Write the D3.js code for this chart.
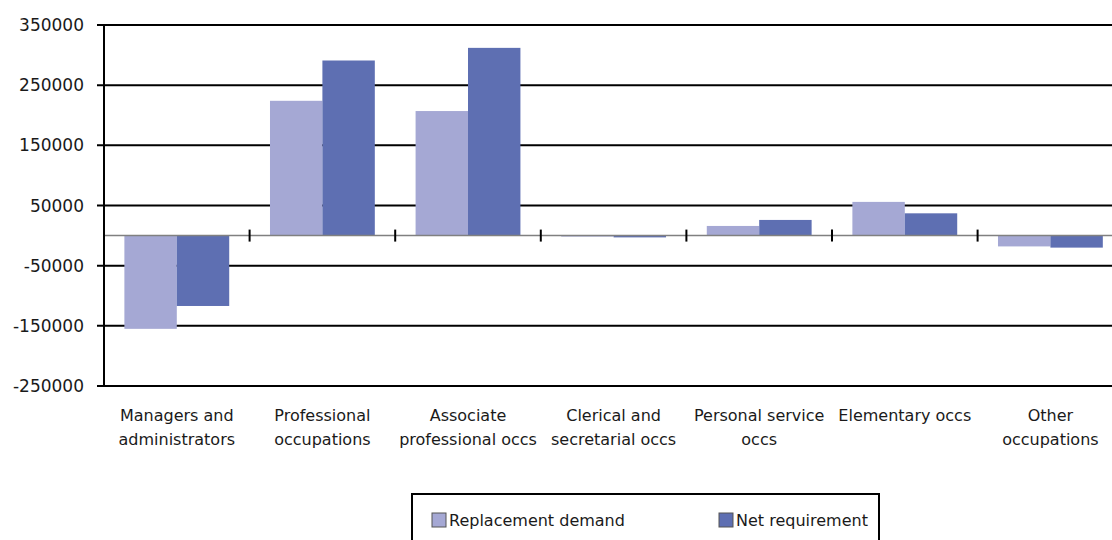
<!DOCTYPE html>
<html>
<head>
	<title>Replacement demand and net requirement</title>
	<script src="https://d3js.org/d3.v7.min.js"></script>
	<style type="text/css">
		body { margin: 0; background: #fff; }
		text { font-family: "DejaVu Sans", Arial, sans-serif; font-size: 16px; fill: #1a1a1a; }
	</style>
</head>
<body>
<div id="chart"></div>
	<script type="text/javascript">
	var categories = [
		["Managers and", "administrators"],
		["Professional", "occupations"],
		["Associate", "professional occs"],
		["Clerical and", "secretarial occs"],
		["Personal service", "occs"],
		["Elementary occs"],
		["Other", "occupations"]
	];
	var seriesNames = ["Replacement demand", "Net requirement"];
	var replacementDemand = [-155000, 224000, 207000, -500, 16000, 56000, -18000];
	var netRequirement = [-117000, 291000, 312000, -3000, 26000, 37000, -20000];
	var yTicks = [-250000, -150000, -50000, 50000, 150000, 250000, 350000];
	var colors = ["#a5a8d4", "#5e6fb2"];

	var width = 1112,
		height = 540,
		plotLeft = 104,
		plotTop = 25,
		plotBottom = 386,
		step = 145.6;

	var svg = d3.select('#chart')
		.append('svg')
		.attr('width', width)
		.attr('height', height);

	var idx = d3.range(categories.length);
	var plotRight = plotLeft + step * categories.length;

	var x0 = d3.scaleBand()
		.domain(idx)
		.range([plotLeft, plotRight])
		.paddingInner(0.28)
		.paddingOuter(0.14);

	var x1 = d3.scaleBand()
		.domain(seriesNames)
		.range([0, x0.bandwidth()]);

	var y = d3.scaleLinear()
		.domain([-250000, 350000])
		.range([plotBottom, plotTop]);

	// gridlines
	svg.append('g')
		.selectAll('line')
		.data(yTicks)
		.enter()
		.append('line')
		.attr('x1', plotLeft - 7)
		.attr('x2', plotRight)
		.attr('y1', function(d) { return y(d); })
		.attr('y2', function(d) { return y(d); })
		.attr('stroke', '#000')
		.attr('stroke-width', 2);

	// tick labels
	svg.append('g')
		.selectAll('text')
		.data(yTicks)
		.enter()
		.append('text')
		.attr('x', 84)
		.attr('y', function(d) { return y(d); })
		.attr('dy', '0.36em')
		.attr('text-anchor', 'end')
		.style('font-size', '17px')
		.text(function(d) { return d; });

	// bars
	var rows = idx.map(function(i) {
		return [replacementDemand[i], netRequirement[i]];
	});

	var groups = svg.append('g')
		.selectAll('g')
		.data(rows)
		.enter()
		.append('g')
		.attr('transform', function(d, i) { return 'translate(' + x0(i) + ',0)'; });

	groups.selectAll('rect')
		.data(function(d) { return d.map(function(v, j) { return {key: seriesNames[j], value: v, j: j}; }); })
		.enter()
		.append('rect')
		.attr('x', function(d) { return x1(d.key); })
		.attr('width', x1.bandwidth())
		.attr('y', function(d) { return y(Math.max(0, d.value)); })
		.attr('height', function(d) { return Math.max(1, Math.abs(y(d.value) - y(0))); })
		.attr('fill', function(d) { return colors[d.j]; });

	// zero line
	svg.append('line')
		.attr('x1', plotLeft)
		.attr('x2', plotRight)
		.attr('y1', y(0))
		.attr('y2', y(0))
		.attr('stroke', '#808080')
		.attr('stroke-width', 1.5);

	// category separators on the zero line
	svg.append('g')
		.selectAll('line')
		.data(idx.slice(1))
		.enter()
		.append('line')
		.attr('x1', function(i) { return plotLeft + step * i; })
		.attr('x2', function(i) { return plotLeft + step * i; })
		.attr('y1', y(0) - 6)
		.attr('y2', y(0) + 6)
		.attr('stroke', '#000')
		.attr('stroke-width', 2);

	// y axis line
	svg.append('line')
		.attr('x1', plotLeft)
		.attr('x2', plotLeft)
		.attr('y1', plotTop)
		.attr('y2', plotBottom)
		.attr('stroke', '#000')
		.attr('stroke-width', 2);

	// category labels
	var labels = svg.append('g')
		.selectAll('text')
		.data(categories)
		.enter()
		.append('text')
		.attr('text-anchor', 'middle')
		.attr('x', function(d, i) { return x0(i) + x0.bandwidth() / 2; });

	labels.selectAll('tspan')
		.data(function(d) { return d; })
		.enter()
		.append('tspan')
		.attr('x', function() { return d3.select(this.parentNode).attr('x'); })
		.attr('y', function(d, k) { return 421 + k * 24; })
		.text(function(d) { return d; });

	// legend
	var legend = svg.append('g');
	legend.append('rect')
		.attr('x', 412)
		.attr('y', 494)
		.attr('width', 467)
		.attr('height', 70)
		.attr('fill', 'none')
		.attr('stroke', '#000')
		.attr('stroke-width', 2);

	var legendX = [432, 719];
	var items = legend.selectAll('g.item')
		.data(seriesNames)
		.enter()
		.append('g')
		.attr('class', 'item')
		.attr('transform', function(d, i) { return 'translate(' + legendX[i] + ',513)'; });

	items.append('rect')
		.attr('width', 14)
		.attr('height', 14)
		.attr('fill', function(d, i) { return colors[i]; })
		.attr('stroke', '#555')
		.attr('stroke-width', 1);

	items.append('text')
		.attr('x', 17)
		.attr('y', 13)
		.text(function(d) { return d; });
	</script>
</body>
</html>
